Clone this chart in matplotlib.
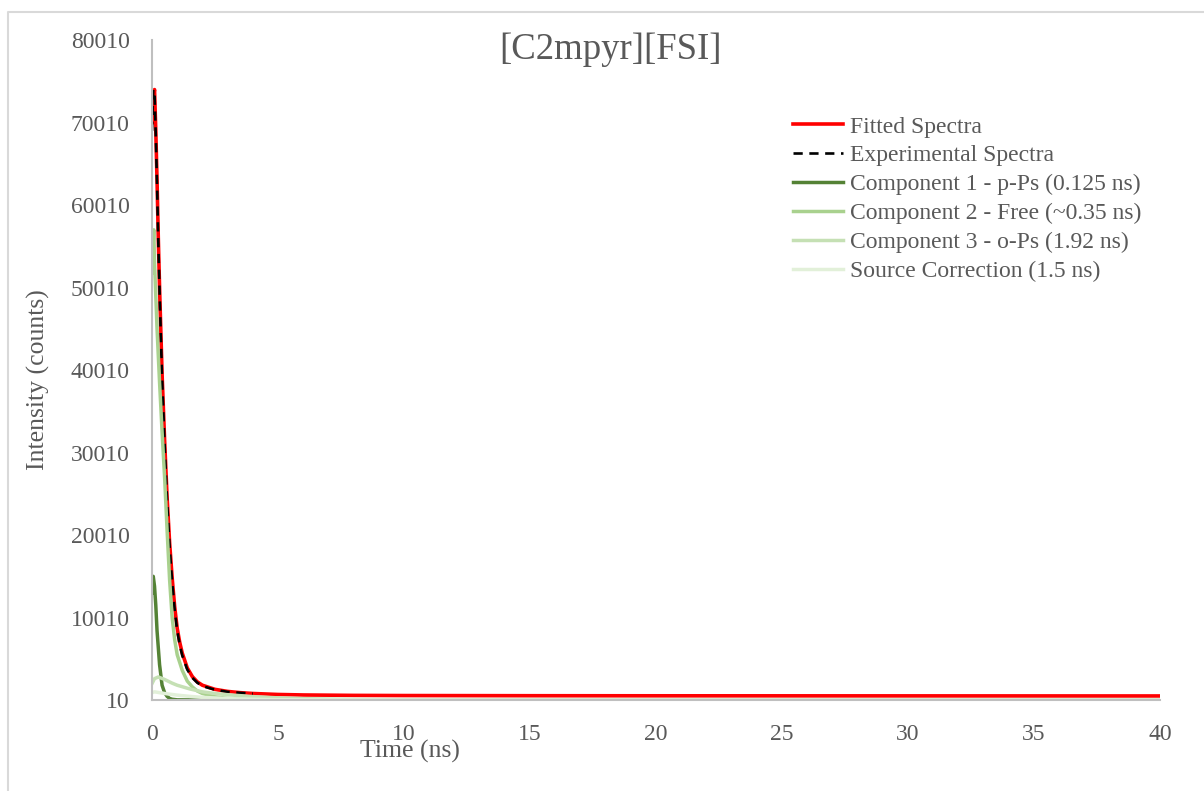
import matplotlib
matplotlib.use('Agg')
import matplotlib.pyplot as plt
from matplotlib.lines import Line2D

# time (ns) / intensity (counts)
tFit = [0, 0.05, 0.1, 0.15, 0.2, 0.25, 0.3, 0.4, 0.5, 0.6, 0.7, 0.8, 0.9, 1.0, 1.1, 1.2,
        1.4, 1.6, 1.8, 2.0, 2.5, 3.0, 3.5, 4, 5, 6, 8, 10, 15, 20, 30, 40]
fitted = [70000, 73000, 74000, 69000, 63000, 56000, 50000, 39500, 31500, 24500, 19000, 14800,
          11300, 8700, 7000, 5700, 3900, 2850, 2200, 1800, 1300, 1050, 900, 800, 680, 620,
          570, 550, 530, 520, 510, 500]

tExp = [0, 0.05, 0.1, 0.15, 0.2, 0.25, 0.3, 0.4, 0.5, 0.6, 0.7, 0.8, 0.9, 1.0, 1.1, 1.2,
        1.4, 1.6, 1.8, 2.0, 2.5, 3.0, 3.5, 4]
experimental = [69000, 74000, 73500, 68500, 62500, 55500, 49500, 39000, 31000, 24000, 18500, 14300,
                10900, 8400, 6700, 5400, 3700, 2700, 2100, 1700, 1250, 1000, 880, 780]

tComp1 = [0, 0.05, 0.1, 0.15, 0.2, 0.3, 0.4, 0.5, 0.6, 0.7, 0.8, 1.0, 2.0, 40]
comp1 = [13000, 15000, 13800, 11500, 8400, 4300, 1800, 900, 450, 200, 100, 30, 10, 10]

tComp2 = [0, 0.07, 0.1, 0.15, 0.2, 0.3, 0.4, 0.5, 0.6, 0.7, 0.8, 0.9, 1.0, 1.2, 1.4, 1.6,
          1.8, 2.0, 2.5, 3, 4, 5, 10, 40]
comp2 = [51800, 57000, 53000, 49000, 45000, 38500, 32500, 27000, 20500, 14500, 10000, 7300,
         5500, 3600, 2300, 1600, 1100, 800, 400, 200, 60, 20, 10, 10]

tComp3 = [0, 0.1, 0.25, 0.5, 0.8, 1.0, 1.5, 2, 2.5, 3, 4, 5, 6, 8, 10, 15, 40]
comp3 = [2000, 2600, 2800, 2500, 2050, 1800, 1350, 1000, 800, 650, 420, 270, 170, 70, 30, 10, 10]

tSource = [0, 0.1, 0.5, 1, 1.5, 2, 3, 4, 5, 6, 8, 10, 40]
source = [900, 1000, 800, 600, 450, 330, 180, 100, 50, 30, 15, 10, 10]

labels = ['Fitted Spectra', 'Experimental Spectra', 'Component 1 - p-Ps (0.125 ns)',
          'Component 2 - Free (~0.35 ns)', 'Component 3 - o-Ps (1.92 ns)',
          'Source Correction (1.5 ns)']

xTicks = [0, 5, 10, 15, 20, 25, 30, 35, 40]
yTicks = [10, 10010, 20010, 30010, 40010, 50010, 60010, 70010, 80010]

plt.rcParams['font.family'] = ['Liberation Serif', 'DejaVu Serif']
grey = '#595959'

fig = plt.figure(figsize=(12.04, 7.91), dpi=100)
ax = fig.add_axes([152/1204, 1 - 700/791, 1008/1204, 660/791])

ax.plot(tFit, fitted, color='#FF0000', lw=2.6, label=labels[0])
ax.plot(tExp, experimental, color='black', lw=1.9, ls=(0, (3.5, 2.5)), label=labels[1])
ax.plot(tComp1, comp1, color='#548235', lw=2.5, label=labels[2])
ax.plot(tComp2, comp2, color='#A9D18E', lw=2.5, label=labels[3])
ax.plot(tComp3, comp3, color='#C5E0B4', lw=2.5, label=labels[4])
ax.plot(tSource, source, color='#E2F0D9', lw=2.5, label=labels[5])

ax.set_xlim(0, 40)
ax.set_ylim(10, 80010)
ax.set_xticks(xTicks)
ax.set_yticks(yTicks)
ax.tick_params(length=0, labelsize=17, labelcolor=grey)
ax.tick_params(axis='y', pad=16)
ax.tick_params(axis='x', pad=17)
for s in ['top', 'right']:
    ax.spines[s].set_visible(False)
for s in ['left', 'bottom']:
    ax.spines[s].set_color('#BFBFBF')
    ax.spines[s].set_linewidth(1.5)

leg = ax.legend(loc='upper left', bbox_to_anchor=(793/1204, 1 - 116/791),
                bbox_transform=fig.transFigure, frameon=False, fontsize=17,
                borderpad=0, borderaxespad=0, handlelength=2.12, handletextpad=0.3,
                labelspacing=0.31)
for txt in leg.get_texts():
    txt.set_color(grey)

fig.text(610/1204, 1 - 50/791, '[C2mpyr][FSI]', ha='center', va='center', fontsize=26.5, color=grey)
fig.text(410/1204, 1 - 751/791, 'Time (ns)', ha='center', va='center', fontsize=18.5, color=grey)
fig.text(38/1204, 1 - 380/791, 'Intensity (counts)', ha='center', va='center', rotation=90,
         fontsize=18.5, color=grey)

# chart area border (only left and top edges show)
fig.add_artist(Line2D([8/1204, 8/1204, 1], [0, 1 - 12/791, 1 - 12/791],
                      transform=fig.transFigure, color='#D9D9D9', lw=1.5))

fig.savefig('out.png', dpi=100)
